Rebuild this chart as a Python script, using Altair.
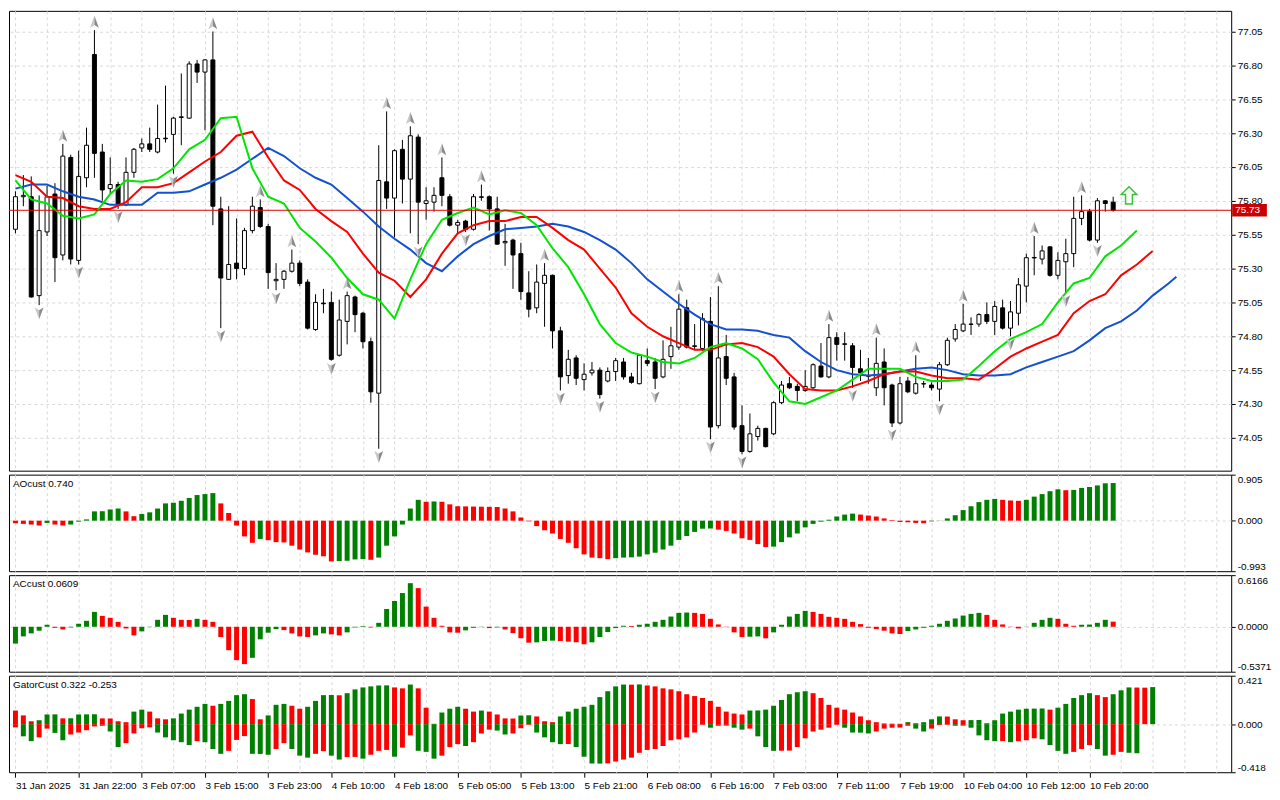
import json
import altair as alt
import pandas as pd

# ---------------- data ----------------
OPEN = [75.59, 75.83, 75.83, 75.10, 75.57, 75.85, 75.40, 76.12, 75.36, 75.97,
        76.88, 76.16, 75.89, 75.92, 75.77, 76.01, 76.19, 76.22, 76.16, 76.262,
        76.29, 76.415, 76.41, 76.81, 76.75, 76.84, 75.74, 75.22, 75.34, 75.30,
        75.58, 75.75, 75.61, 75.21, 75.22, 75.28, 75.34, 75.20, 74.85, 75.045,
        75.05, 74.66, 74.91, 75.09, 74.97, 74.76, 74.38, 75.94, 75.82, 76.18,
        75.96, 76.27, 75.78, 75.79, 75.97, 75.83, 75.62, 75.65, 75.59, 75.825,
        75.83, 75.74, 75.49, 75.51, 75.41, 75.12, 75.01, 75.19, 75.25, 74.84,
        74.51, 74.64, 74.48, 74.53, 74.55, 74.47, 74.54, 74.61, 74.50, 74.45,
        74.62, 74.61, 74.50, 74.65, 74.72, 75.01, 74.725, 74.71, 74.91, 74.14,
        74.65, 74.50, 74.14, 73.95, 74.06, 74.12, 74.08, 74.31, 74.45, 74.43,
        74.40, 74.42, 74.58, 74.50, 74.79, 74.74, 74.73, 74.56, 74.51, 74.42,
        74.61, 74.44, 74.16, 74.47, 74.38, 74.45, 74.44, 74.41, 74.59, 74.78,
        74.84, 74.89, 74.89, 74.96, 74.91, 75.01, 74.86, 74.97, 75.17, 75.382,
        75.37, 75.46, 75.25, 75.35, 75.41, 75.67, 75.72, 75.51, 75.80, 75.79]
HIGH = [75.87, 75.99, 75.98, 75.84, 75.91, 75.93, 76.22, 76.14, 76.17, 76.34,
        77.06, 76.22, 76.12, 75.94, 76.12, 76.19, 76.26, 76.34, 76.51, 76.65,
        76.42, 76.74, 76.83, 76.84, 76.845, 77.05, 75.83, 75.76, 75.67, 75.60,
        75.83, 75.81, 75.63, 75.34, 75.29, 75.44, 75.36, 75.22, 75.11, 75.15,
        75.13, 75.07, 75.13, 75.10, 74.98, 74.79, 76.21, 76.46, 76.18, 76.25,
        76.35, 76.29, 75.90, 75.90, 76.12, 75.85, 75.66, 75.66, 75.85, 75.92,
        75.84, 75.83, 75.63, 75.52, 75.49, 75.28, 75.33, 75.34, 75.255, 74.87,
        74.70, 74.66, 74.60, 74.61, 74.57, 74.57, 74.64, 74.64, 74.53, 74.665,
        74.71, 74.64, 74.77, 74.87, 75.11, 75.07, 74.89, 74.97, 75.09, 75.17,
        74.81, 74.53, 74.29, 74.23, 74.14, 74.125, 74.32, 74.47, 74.50, 74.45,
        74.55, 74.60, 74.75, 74.89, 74.83, 74.83, 74.75, 74.70, 74.64, 74.79,
        74.71, 74.45, 74.50, 74.50, 74.66, 74.47, 74.46, 74.61, 74.79, 74.89,
        75.04, 74.94, 74.97, 75.05, 75.06, 75.07, 75.06, 75.23, 75.41, 75.54,
        75.47, 75.465, 75.42, 75.52, 75.83, 75.84, 75.74, 75.82, 75.805, 75.83]
LOW = [75.56, 75.76, 75.085, 75.03, 75.54, 75.20, 75.36, 75.33, 75.33, 75.90,
       75.97, 75.80, 75.85, 75.74, 75.76, 75.97, 76.16, 76.16, 76.15, 76.23,
       76.00, 76.21, 76.405, 76.67, 76.32, 75.62, 74.86, 75.215, 75.22, 75.25,
       75.56, 75.60, 75.15, 75.14, 75.15, 75.27, 75.17, 74.85, 74.84, 74.97,
       74.62, 74.65, 74.74, 74.83, 74.71, 74.31, 73.97, 75.74, 75.53, 75.78,
       75.56, 75.48, 75.66, 75.72, 75.76, 75.61, 75.56, 75.57, 75.58, 75.80,
       75.58, 75.475, 75.32, 75.15, 75.07, 74.94, 74.97, 74.87, 74.71, 74.40,
       74.45, 74.44, 74.40, 74.51, 74.34, 74.46, 74.47, 74.48, 74.45, 74.445,
       74.58, 74.41, 74.49, 74.56, 74.70, 74.71, 74.70, 74.69, 74.04, 74.12,
       74.44, 74.11, 73.93, 73.94, 74.03, 73.98, 74.07, 74.30, 74.41, 74.32,
       74.39, 74.41, 74.495, 74.49, 74.62, 74.62, 74.42, 74.47, 74.45, 74.36,
       74.29, 74.13, 74.15, 74.38, 74.37, 74.42, 74.40, 74.32, 74.58, 74.76,
       74.83, 74.81, 74.87, 74.89, 74.81, 74.85, 74.80, 74.88, 75.05, 75.25,
       75.33, 75.24, 75.22, 75.12, 75.31, 75.62, 75.50, 75.49, 75.72, 75.72]
CLOSE = [75.83, 75.84, 75.09, 75.58, 75.83, 75.38, 76.13, 75.37, 75.98, 76.21,
         76.15, 75.88, 75.92, 75.77, 76.01, 76.18, 76.22, 76.18, 76.26, 76.258,
         76.41, 76.42, 76.81, 76.75, 76.84, 75.76, 75.23, 75.33, 75.30, 75.58,
         75.76, 75.61, 75.27, 75.22, 75.28, 75.34, 75.19, 74.86, 75.05, 75.04,
         74.63, 74.92, 75.10, 74.96, 74.76, 74.39, 75.95, 75.82, 76.17, 75.96,
         76.28, 75.79, 75.80, 75.84, 75.84, 75.62, 75.64, 75.59, 75.83, 75.83,
         75.74, 75.48, 75.50, 75.40, 75.13, 75.00, 75.20, 75.25, 74.84, 74.50,
         74.63, 74.49, 74.52, 74.55, 74.37, 74.54, 74.62, 74.50, 74.46, 74.66,
         74.60, 74.49, 74.63, 74.73, 75.00, 74.72, 74.73, 74.93, 74.13, 74.64,
         74.49, 74.13, 73.95, 74.08, 74.12, 73.985, 74.31, 74.44, 74.42, 74.40,
         74.43, 74.59, 74.50, 74.79, 74.74, 74.745, 74.57, 74.53, 74.505, 74.60,
         74.42, 74.16, 74.45, 74.39, 74.45, 74.448, 74.42, 74.59, 74.77, 74.85,
         74.89, 74.888, 74.96, 74.91, 75.02, 74.86, 74.98, 75.18, 75.38, 75.378,
         75.43, 75.25, 75.36, 75.41, 75.67, 75.72, 75.51, 75.80, 75.78, 75.73]

# Alligator lines, read every second bar (lips to bar 142, teeth to 144, jaw to 146 and 147)
LIPS = [75.95, 75.81, 75.78, 75.69, 75.67, 75.70, 75.85, 75.95, 75.94, 75.96, 76.04, 76.18, 76.25,
        76.41, 76.42, 76.04, 75.83, 75.78, 75.60, 75.50, 75.38, 75.23, 75.11, 75.07, 74.93, 75.22,
        75.48, 75.66, 75.71, 75.75, 75.70, 75.73, 75.71, 75.62, 75.45, 75.31, 75.11, 74.89, 74.75,
        74.68, 74.65, 74.61, 74.60, 74.64, 74.72, 74.75, 74.71, 74.63, 74.46, 74.32, 74.30, 74.35,
        74.40, 74.48, 74.56, 74.56, 74.56, 74.50, 74.47, 74.47, 74.48, 74.58, 74.69, 74.78, 74.83,
        74.89, 75.05, 75.19, 75.23, 75.39, 75.47, 75.58]
TEETH = [75.99, 75.94, 75.83, 75.82, 75.76, 75.74, 75.74, 75.79, 75.90, 75.90, 75.93, 76.01, 76.09,
         76.16, 76.28, 76.31, 76.12, 75.95, 75.88, 75.74, 75.65, 75.57, 75.41, 75.27, 75.21, 75.09,
         75.22, 75.41, 75.56, 75.62, 75.65, 75.65, 75.68, 75.68, 75.60, 75.51, 75.44, 75.30, 75.16,
         74.97, 74.87, 74.80, 74.75, 74.70, 74.70, 74.74, 74.75, 74.72, 74.65, 74.52, 74.41, 74.40,
         74.40, 74.43, 74.47, 74.52, 74.54, 74.54, 74.51, 74.49, 74.49, 74.48, 74.56, 74.65, 74.71,
         74.76, 74.81, 74.97, 75.06, 75.11, 75.25, 75.33, 75.43]
JAW = [75.89, 75.92, 75.92, 75.87, 75.83, 75.81, 75.77, 75.77, 75.77, 75.86, 75.86, 75.87, 75.92,
       75.97, 76.03, 76.11, 76.19, 76.13, 76.04, 75.97, 75.92, 75.82, 75.72, 75.61, 75.52, 75.44,
       75.34, 75.28, 75.39, 75.48, 75.54, 75.59, 75.60, 75.61, 75.63, 75.61, 75.57, 75.51, 75.44,
       75.34, 75.22, 75.13, 75.04, 74.96, 74.89, 74.85, 74.85, 74.84, 74.81, 74.79, 74.69, 74.61,
       74.55, 74.52, 74.51, 74.52, 74.54, 74.56, 74.57, 74.55, 74.52, 74.51, 74.51, 74.52, 74.57,
       74.61, 74.65, 74.69, 74.77, 74.86, 74.91, 74.99, 75.10, 75.19]
JAW_LAST_I = 147
JAW_LAST = 75.24

FRACTAL_UP = [6, 10, 25, 31, 35, 42, 47, 50, 54, 59, 67, 84, 89, 103, 109, 114, 120, 129, 135]
FRACTAL_DN = [3, 8, 13, 20, 26, 33, 40, 46, 51, 57, 69, 74, 81, 88, 92, 106, 111, 117, 126, 133, 137]

SIGNAL_I = [141]
SIGNAL_P = [75.84]
CURRENT = 75.73

AO = [-0.050, -0.063, -0.076, -0.095, -0.044, -0.076, -0.095, -0.076, -0.019, 0.025,
      0.183, 0.186, 0.221, 0.239, 0.183, 0.088, 0.132, 0.164, 0.239, 0.340,
      0.353, 0.391, 0.447, 0.504, 0.523, 0.542, 0.340, 0.151, -0.095, -0.309,
      -0.435, -0.359, -0.384, -0.422, -0.428, -0.491, -0.567, -0.624, -0.670, -0.700,
      -0.800, -0.794, -0.788, -0.762, -0.756, -0.769, -0.725, -0.491, -0.309, -0.076,
      0.239, 0.410, 0.372, 0.378, 0.372, 0.321, 0.284, 0.281, 0.278, 0.275,
      0.272, 0.269, 0.239, 0.183, 0.063, -0.013, -0.107, -0.189, -0.252, -0.359,
      -0.435, -0.542, -0.662, -0.725, -0.737, -0.756, -0.737, -0.725, -0.721, -0.706,
      -0.662, -0.630, -0.567, -0.491, -0.378, -0.302, -0.221, -0.158, -0.154, -0.176,
      -0.202, -0.252, -0.347, -0.378, -0.460, -0.517, -0.510, -0.422, -0.328, -0.252,
      -0.132, -0.063, -0.019, 0.019, 0.082, 0.120, 0.139, 0.120, 0.101, 0.082,
      0.044, 0.013, -0.025, -0.032, -0.044, -0.050, -0.013, 0.003, 0.044, 0.107,
      0.208, 0.284, 0.365, 0.410, 0.428, 0.410, 0.397, 0.391, 0.410, 0.473,
      0.523, 0.580, 0.617, 0.599, 0.605, 0.643, 0.662, 0.693, 0.735, 0.740]
AO_COL = ("rrrrgrrggg" "ggggrrgggg" "ggggggrrrr" "rgrrrrrrrr" "rggggrgggg"
          "ggrgrrrrrr" "rrrrrrrrrr" "rrrrrrgggg" "gggggggggr" "rrrrrrgggg"
          "gggggggrrr" "rrrrrrgggg" "gggggrrrgg" "gggrgggggg")

AC = [-0.201, -0.115, -0.079, -0.047, 0.024, -0.012, -0.032, -0.008, 0.036, 0.071,
      0.178, 0.130, 0.107, 0.059, -0.020, -0.103, -0.055, -0.004, 0.083, 0.142,
      0.107, 0.083, 0.081, 0.095, 0.083, 0.059, -0.122, -0.280, -0.399, -0.446,
      -0.371, -0.150, -0.071, -0.028, -0.040, -0.079, -0.115, -0.122, -0.103, -0.079,
      -0.091, -0.103, -0.067, -0.008, 0.008, -0.008, 0.047, 0.213, 0.308, 0.403,
      0.521, 0.462, 0.241, 0.107, 0.012, -0.067, -0.071, -0.043, -0.012, -0.004,
      -0.016, -0.008, -0.032, -0.075, -0.138, -0.190, -0.186, -0.170, -0.166, -0.170,
      -0.178, -0.186, -0.209, -0.186, -0.122, -0.063, -0.016, 0.012, 0.010, 0.024,
      0.036, 0.059, 0.083, 0.122, 0.166, 0.170, 0.166, 0.154, 0.095, 0.028,
      -0.004, -0.067, -0.122, -0.119, -0.115, -0.138, -0.067, 0.024, 0.122, 0.154,
      0.190, 0.178, 0.154, 0.119, 0.107, 0.095, 0.059, 0.032, -0.012, -0.028,
      -0.047, -0.079, -0.087, -0.051, -0.032, -0.012, 0.012, 0.036, 0.071, 0.099,
      0.134, 0.154, 0.166, 0.142, 0.083, 0.028, -0.004, -0.020, 0.002, 0.047,
      0.083, 0.107, 0.095, 0.036, 0.012, 0.024, 0.026, 0.047, 0.083, 0.061]
AC_COL = ("gggggrrggg" "grrrrrgggg" "rrrgrrrrrr" "ggggrrrrgg" "rrgggrgggg"
          "grrrrrrggg" "rgrrrrgggr" "rrrgggggrg" "ggggggrrrr" "rrrggrgggg"
          "grrrrrrrrr" "rrrggggggg" "gggrrrrrgg" "ggrrrggggr")

GATOR_UP = [0.118, 0.076, 0.025, 0.034, 0.084, 0.085, 0.050, 0.051, 0.084, 0.085,
            0.086, 0.050, 0.049, 0.025, 0.017, 0.109, 0.126, 0.109, 0.050, 0.042,
            0.050, 0.092, 0.126, 0.151, 0.176, 0.160, 0.176, 0.202, 0.252, 0.260,
            0.218, 0.042, 0.076, 0.168, 0.176, 0.160, 0.134, 0.151, 0.202, 0.252,
            0.253, 0.251, 0.269, 0.302, 0.319, 0.328, 0.336, 0.337, 0.319, 0.311,
            0.344, 0.311, 0.143, 0.003, 0.101, 0.134, 0.151, 0.134, 0.109, 0.118,
            0.109, 0.084, 0.050, 0.049, 0.076, 0.077, 0.067, 0.025, 0.017, 0.067,
            0.109, 0.134, 0.151, 0.168, 0.235, 0.286, 0.328, 0.344, 0.343, 0.345,
            0.336, 0.328, 0.311, 0.302, 0.286, 0.260, 0.244, 0.227, 0.202, 0.151,
            0.109, 0.092, 0.084, 0.118, 0.119, 0.126, 0.160, 0.210, 0.260, 0.277,
            0.286, 0.269, 0.227, 0.168, 0.143, 0.126, 0.101, 0.067, 0.034, 0.017,
            0.006, 0.004, 0.003, 0.017, 0.008, 0.017, 0.042, 0.067, 0.066, 0.042,
            0.034, 0.035, 0.036, 0.008, 0.034, 0.092, 0.109, 0.126, 0.134, 0.135,
            0.136, 0.126, 0.143, 0.176, 0.227, 0.252, 0.269, 0.252, 0.235, 0.260,
            0.294, 0.319, 0.318, 0.317, 0.322]
GATOR_UP_COL = ("rrrgggrggg" "grrrrggrrr" "gggggrgggg" "rrgggrrggg" "grggggggrr"
                "grrrgggrrg" "rrrrggrrrg" "ggggggggrg" "rrrrrrrrrr" "rrrggggggg"
                "grrrrrrrrr" "rrrgrgggrr" "rggrgggggg" "grgggggrrg" "ggrrg")
GATOR_DN = [-0.028, -0.106, -0.148, -0.115, -0.039, -0.076, -0.140, -0.090, -0.073, -0.053,
            -0.020, -0.014, -0.064, -0.199, -0.165, -0.081, -0.036, -0.028, -0.073, -0.115,
            -0.140, -0.157, -0.182, -0.148, -0.157, -0.216, -0.258, -0.232, -0.137, -0.104,
            -0.258, -0.259, -0.266, -0.216, -0.165, -0.216, -0.274, -0.291, -0.258, -0.235,
            -0.274, -0.308, -0.286, -0.285, -0.300, -0.266, -0.232, -0.224, -0.283, -0.204,
            -0.098, -0.232, -0.241, -0.300, -0.274, -0.199, -0.174, -0.190, -0.157, -0.081,
            -0.048, -0.056, -0.090, -0.081, -0.036, -0.006, -0.073, -0.115, -0.157, -0.174,
            -0.173, -0.199, -0.283, -0.342, -0.343, -0.341, -0.325, -0.308, -0.291, -0.249,
            -0.224, -0.216, -0.190, -0.140, -0.132, -0.115, -0.073, -0.006, -0.031, -0.014,
            -0.013, -0.031, -0.048, -0.039, -0.106, -0.199, -0.232, -0.231, -0.230, -0.199,
            -0.123, -0.064, -0.048, -0.031, -0.006, -0.031, -0.073, -0.074, -0.081, -0.064,
            -0.039, -0.031, -0.030, -0.014, -0.039, -0.064, -0.039, -0.008, -0.006, -0.014,
            -0.013, -0.031, -0.098, -0.140, -0.148, -0.147, -0.157, -0.148, -0.140, -0.123,
            -0.132, -0.182, -0.232, -0.258, -0.241, -0.216, -0.182, -0.216, -0.274, -0.266,
            -0.241, -0.249, -0.253]
GATOR_DN_COL = ("rggrrggrrr" "rrggrrrrgg" "gggrgggrrr" "gggrrgggrr" "ggrrgrrrgr"
                "rgggrrrgrr" "rggrrrgggg" "rggggrrrrr" "rrrrrrrrgr" "rggrgggrrr"
                "rrrrrggggr" "rrrrggrrrg" "rggggrgrrr" "ggggrrrggr" "rgg")

TIME_LABELS = ["31 Jan 2025", "31 Jan 22:00", "3 Feb 07:00", "3 Feb 15:00", "3 Feb 23:00",
               "4 Feb 10:00", "4 Feb 18:00", "5 Feb 05:00", "5 Feb 13:00", "5 Feb 21:00",
               "6 Feb 08:00", "6 Feb 16:00", "7 Feb 03:00", "7 Feb 11:00", "7 Feb 19:00",
               "10 Feb 04:00", "10 Feb 12:00", "10 Feb 20:00"]
PRICE_TICKS = [74.05, 74.30, 74.55, 74.80, 75.05, 75.30, 75.55, 75.80, 76.05, 76.30, 76.55, 76.80, 77.05]
PRICE_DOMAIN = [73.808, 77.202]
AO_RANGE = [-0.993, 0.905]
AC_RANGE = [-0.5371, 0.6166]
GATOR_RANGE = [-0.418, 0.421]
AO_LABEL = "AOcust 0.740"
AC_LABEL = "ACcust 0.0609"
GATOR_LABEL = "GatorCust 0.322 -0.253"

# ---------------- layout / style ----------------
W = 1228
H_MAIN = 462
H_SUB = 97
FONT = "Liberation Sans"
GRID = "#d9d9d9"
GREEN = "#008000"
RED = "#ff0000"
X_DOMAIN = [-0.1875, -0.1875 + W / 8.0]
GRID_X = list(range(0, 154, 4))

xscale = alt.Scale(domain=X_DOMAIN, nice=False, zero=False)
x_axis_hidden = alt.Axis(values=GRID_X, grid=True, gridDash=[3, 3], gridColor=GRID,
                         labels=False, ticks=False, domain=False, title=None)
lab_arr = json.dumps(TIME_LABELS)
x_axis_time = alt.Axis(
    values=GRID_X, grid=True, gridDash=[3, 3], gridColor=GRID, domain=False, title=None,
    labelExpr=f"(datum.value % 8 == 0 && datum.value <= 136) ? {lab_arr}[datum.value / 8] : ''",
    labelAlign="left", labelBaseline="top", labelPadding=3, labelOverlap=False,
    tickSize=5, tickColor="black",
    tickOpacity={"condition": {"test": "datum.value % 8 == 0 && datum.value <= 136", "value": 1}, "value": 0},
)

pscale = alt.Scale(domain=PRICE_DOMAIN, nice=False, zero=False)
p_axis = alt.Axis(orient="right", values=PRICE_TICKS, format=".2f", grid=True, gridDash=[3, 3],
                  gridColor=GRID, tickSize=4, tickColor="black", domain=False, labelPadding=2,
                  title=None)


def X(axis=x_axis_hidden, field="i"):
    return alt.X(f"{field}:Q", scale=xscale, axis=axis)


def P(field):
    return alt.Y(f"{field}:Q", scale=pscale, axis=p_axis)


# ---------------- main price panel ----------------
n = len(OPEN)
df_c = pd.DataFrame({"i": list(range(n)), "o": OPEN, "h": HIGH, "l": LOW, "c": CLOSE})
df_c["d"] = ["up" if c >= o else "dn" for o, c in zip(OPEN, CLOSE)]

wicks = alt.Chart(df_c).mark_rule(color="black", strokeWidth=1).encode(x=X(), y=P("l"), y2="h")
bodies = alt.Chart(df_c).mark_bar(size=4, stroke="black", strokeWidth=1).encode(
    x=X(), y=P("o"), y2="c",
    fill=alt.Fill("d:N", scale=alt.Scale(domain=["up", "dn"], range=["white", "black"]), legend=None),
)


def line_df(vals, idx):
    return pd.DataFrame({"i": idx, "v": vals})


jaw_idx = list(range(0, 2 * (len(JAW)), 2)) + [JAW_LAST_I]
df_jaw = line_df(JAW + [JAW_LAST], jaw_idx)
df_teeth = line_df(TEETH, list(range(0, 2 * len(TEETH), 2)))
df_lips = line_df(LIPS, list(range(0, 2 * len(LIPS), 2)))

jaw = alt.Chart(df_jaw).mark_line(color="#1450d2", strokeWidth=2).encode(x=X(), y=P("v"))
teeth = alt.Chart(df_teeth).mark_line(color="#ff0000", strokeWidth=2).encode(x=X(), y=P("v"))
lips = alt.Chart(df_lips).mark_line(color="#00e600", strokeWidth=2).encode(x=X(), y=P("v"))

df_fu = pd.DataFrame({"i": FRACTAL_UP, "p": [HIGH[k] for k in FRACTAL_UP]})
df_fd = pd.DataFrame({"i": FRACTAL_DN, "p": [LOW[k] for k in FRACTAL_DN]})
UP_L = "M0,-1L0,0.45L-0.7,0.9Z"
UP_R = "M0,-1L0.7,0.9L0,0.45Z"
DN_L = "M0,1L0,-0.45L-0.7,-0.9Z"
DN_R = "M0,1L0.7,-0.9L0,-0.45Z"
fr_layers = []
for df_f, off, shp_l, shp_r in [(df_fu, -8, UP_L, UP_R), (df_fd, 8, DN_L, DN_R)]:
    fr_layers.append(alt.Chart(df_f).mark_point(shape=shp_l, filled=True, size=160, yOffset=off,
                                                 color="#c8c8c8", opacity=1).encode(x=X(), y=P("p")))
    fr_layers.append(alt.Chart(df_f).mark_point(shape=shp_r, filled=True, size=160, yOffset=off,
                                                 color="#8a8a8a", opacity=1).encode(x=X(), y=P("p")))

df_cur = pd.DataFrame({"p": [CURRENT], "t": [f"{CURRENT:.2f}"]})
price_line = alt.Chart(df_cur).mark_rule(color="#e00000", strokeWidth=1).encode(y=P("p"))
price_box = alt.Chart(df_cur).mark_point(
    shape="M0,-0.37L2.05,-0.37L2.05,0.37L0,0.37Z", filled=True, size=1156,
    color="#c80000", opacity=1).encode(x=alt.value(W + 1), y=P("p"))
price_txt = alt.Chart(df_cur).mark_text(align="left", baseline="middle", color="white",
                                        font=FONT, fontSize=10, dx=4).encode(
    x=alt.value(W), y=P("p"), text="t:N")

df_sig = pd.DataFrame({"i": SIGNAL_I, "p": SIGNAL_P})
signal = alt.Chart(df_sig).mark_point(
    shape="M0,-1L0.9,-0.1L0.4,-0.1L0.4,1L-0.4,1L-0.4,-0.1L-0.9,-0.1Z",
    filled=True, size=300, fill="#f4fff4", stroke="#3cc03c", strokeWidth=1.5, opacity=1,
).encode(x=X(), y=P("p"))

main = alt.layer(wicks, bodies, jaw, teeth, lips, *fr_layers, price_line, price_box, price_txt,
                 signal).properties(width=W, height=H_MAIN)


# ---------------- indicator panels ----------------
def sub_axis(rng, lbls):
    lo, hi = rng
    return alt.Axis(orient="right", values=[lo, 0, hi], grid=True, gridDash=[3, 3], gridColor=GRID,
                    gridOpacity={"condition": {"test": "datum.value == 0", "value": 1}, "value": 0},
                    tickSize=4, tickColor="black", domain=False, labelPadding=2, title=None,
                    labelFlush=True,
                    labelExpr=f"datum.value > 0 ? '{lbls[2]}' : (datum.value < 0 ? '{lbls[0]}' : '{lbls[1]}')")


def hist(vals, cols, rng, lbls, xaxis):
    df = pd.DataFrame({"i": list(range(len(vals))), "v": vals, "z": [0.0] * len(vals),
                       "col": list(cols)})
    return alt.Chart(df).mark_bar(size=5).encode(
        x=X(xaxis),
        y=alt.Y("v:Q", stack=None, scale=alt.Scale(domain=rng, nice=False, zero=False),
                axis=sub_axis(rng, lbls)),
        y2="z",
        color=alt.Color("col:N", scale=alt.Scale(domain=["g", "r"], range=[GREEN, RED]), legend=None),
    )


def panel_label(txt):
    return alt.Chart(pd.DataFrame({"t": [txt]})).mark_text(
        align="left", baseline="top", font=FONT, fontSize=10, color="black").encode(
        text="t:N", x=alt.value(4), y=alt.value(4))


ao = alt.layer(hist(AO, AO_COL, AO_RANGE, ["-0.993", "0.000", "0.905"], x_axis_hidden),
               panel_label(AO_LABEL)).properties(width=W, height=H_SUB)
ac = alt.layer(hist(AC, AC_COL, AC_RANGE, ["-0.5371", "0.0000", "0.6166"], x_axis_hidden),
               panel_label(AC_LABEL)).properties(width=W, height=H_SUB)
gator = alt.layer(
    hist(GATOR_UP, GATOR_UP_COL, GATOR_RANGE, ["-0.418", "0.000", "0.421"], x_axis_time),
    hist(GATOR_DN, GATOR_DN_COL, GATOR_RANGE, ["-0.418", "0.000", "0.421"], x_axis_time),
    panel_label(GATOR_LABEL),
).properties(width=W, height=H_SUB)

chart = alt.vconcat(main, ao, ac, gator, spacing=2).properties(
    padding={"left": 0, "top": 0, "right": 0, "bottom": 0}
).configure_view(stroke="black", strokeWidth=1).configure_axis(
    labelFont=FONT, labelFontSize=10, labelColor="black"
).configure_text(font=FONT)

chart.save("out.html", embed_options={"renderer": "svg", "actions": False})
